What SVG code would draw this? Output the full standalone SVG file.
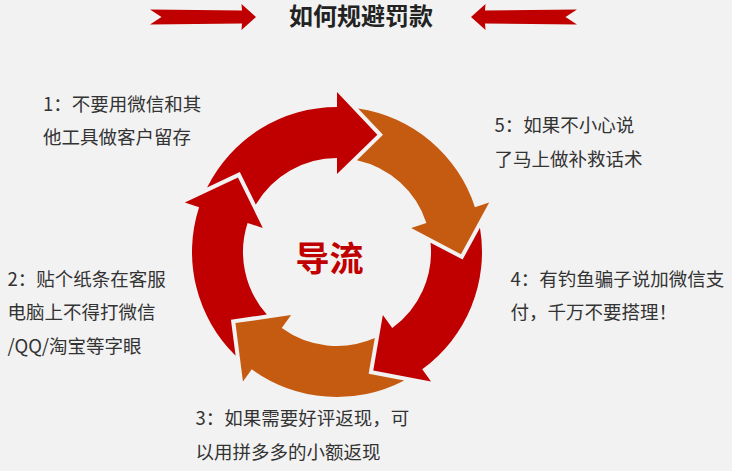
<svg xmlns="http://www.w3.org/2000/svg" xmlns:xlink="http://www.w3.org/1999/xlink" width="732" height="471" viewBox="0 0 732 471">
<style>
.t{font-family:"Noto Sans CJK SC","Noto Sans",sans-serif;font-size:18.5px;fill:#333333}
.red{fill:#C00000}
.org{fill:#C55A11}
</style>
<defs>
<path id="arc" d="M207.09,187.59 A145,145 0 0 1 337,107 L337,92 L377.37,134.76 L337,174 L337,158 A94,94 0 0 0 255.82,204.6 L239.82,172.06 Z"/>
<path id="tarrow" d="M150,9.5 L242,10.5 L241.5,4 L256,17 L241.5,30 L242,23.5 L150,24.5 L161.5,17 Z"/>
</defs>
<rect width="732" height="471" fill="#F2F2F2"/>
<g id="title">
<use xlink:href="#tarrow" class="red"/>
<use xlink:href="#tarrow" class="red" transform="translate(727,0) scale(-1,1)"/>
<text x="361" y="25" text-anchor="middle" font-family="'Noto Sans CJK SC',sans-serif" font-size="24" font-weight="bold" fill="#222222">如何规避罚款</text>
</g>
<g id="cycle-arrows">
<use xlink:href="#arc" class="red"/>
<use xlink:href="#arc" class="org" transform="rotate(72 337 252)"/>
<use xlink:href="#arc" class="red" transform="rotate(144 337 252)"/>
<use xlink:href="#arc" class="org" transform="rotate(216 337 252)"/>
<use xlink:href="#arc" class="red" transform="rotate(288 337 252)"/>
</g>
<g id="center">
<text x="329.5" y="270.5" text-anchor="middle" font-family="'Noto Sans CJK SC',sans-serif" font-size="34" font-weight="bold" fill="#C00000">导流</text>
</g>
<g id="step1">
<text class="t" x="43" y="110.5">1：不要用微信和其</text>
<text class="t" x="43" y="144">他工具做客户留存</text>
</g>
<g id="step2">
<text class="t" x="7.5" y="285.5">2：贴个纸条在客服</text>
<text class="t" x="7.5" y="319">电脑上不得打微信</text>
<text class="t" x="7.5" y="352.5">/QQ/淘宝等字眼</text>
</g>
<g id="step3">
<text class="t" x="195.5" y="424.5">3：如果需要好评返现，可</text>
<text class="t" x="195.5" y="458.5">以用拼多多的小额返现</text>
</g>
<g id="step4">
<text class="t" x="510.5" y="285.5">4：有钓鱼骗子说加微信支</text>
<text class="t" x="510.5" y="319">付，千万不要搭理！</text>
</g>
<g id="step5">
<text class="t" x="494.5" y="132">5：如果不小心说</text>
<text class="t" x="494.5" y="165.5">了马上做补救话术</text>
</g>
</svg>
